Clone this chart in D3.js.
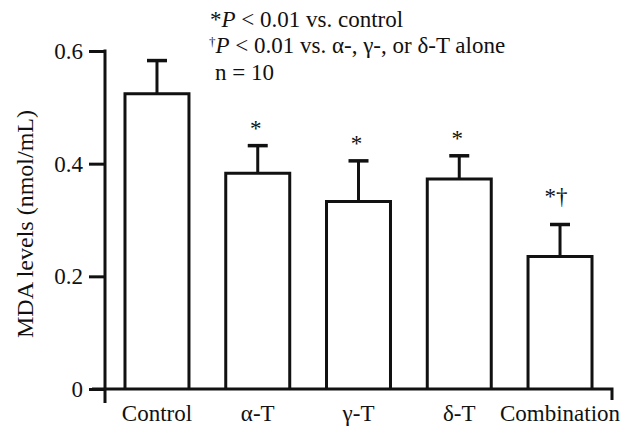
<!DOCTYPE html>
<html>
<head>
<meta charset="utf-8">
<script src="https://cdn.jsdelivr.net/npm/d3@7"></script>
<style>
  body { margin: 0; background: #fff; }
  svg { display: block; font-family: "Liberation Serif", "Times New Roman", serif; }
</style>
</head>
<body>
<svg id="chart" width="642" height="426"></svg>
<script>
// data
var groups = ["Control", "\u03b1-T", "\u03b3-T", "\u03b4-T", "Combination"];
var mda = [0.524, 0.383, 0.333, 0.373, 0.235];
var sem = [0.059, 0.049, 0.072, 0.041, 0.057];
var marks = ["", "*", "*", "*", "*\u2020"];
var yTicks = [0, 0.2, 0.4, 0.6];

var svg = d3.select("#chart");
var ink = "#111";

var y = d3.scaleLinear().domain([0, 0.6]).range([389, 51]);
var x = d3.scaleBand().domain(groups).range([106.6, 610.4]).paddingInner(0.365).paddingOuter(0.1825);

// y axis
var yAxis = svg.append("g")
    .attr("transform", "translate(105,0)")
    .call(d3.axisLeft(y).tickValues(yTicks).tickSize(16).tickPadding(6)
      .tickFormat(function(d) { return d === 0 ? "0" : d3.format(".1f")(d); }));
yAxis.select(".domain").remove();
yAxis.selectAll("line").attr("stroke", ink).attr("stroke-width", 3);
yAxis.selectAll("text").attr("fill", ink).style("font-size", "23px").style("font-family", "Liberation Serif");

svg.append("line").attr("x1", 105).attr("x2", 105).attr("y1", y(0.6) - 1.5).attr("y2", y(0) + 14)
    .attr("stroke", ink).attr("stroke-width", 3);

// x axis
var xAxis = svg.append("g")
    .attr("transform", "translate(0," + y(0) + ")")
    .call(d3.axisBottom(x).tickSize(0).tickPadding(16));
xAxis.select(".domain").remove();
xAxis.selectAll("text").attr("fill", ink).style("font-size", "23px").style("font-family", "Liberation Serif");

svg.append("path")
    .attr("d", "M92," + y(0) + "H612V" + (y(0) + 11))
    .attr("fill", "none").attr("stroke", ink).attr("stroke-width", 3);

// bars
var bw = x.bandwidth();
var g = svg.append("g");
groups.forEach(function(name, i) {
  var cx = x(name) + bw / 2;
  var top = y(mda[i] + sem[i]);
  g.append("path")
      .attr("d", "M" + x(name) + "," + y(0) + "V" + y(mda[i]) + "H" + (x(name) + bw) + "V" + y(0))
      .attr("fill", "none").attr("stroke", ink).attr("stroke-width", 3);
  g.append("line").attr("x1", cx).attr("x2", cx).attr("y1", y(mda[i])).attr("y2", top)
      .attr("stroke", ink).attr("stroke-width", 3);
  g.append("line").attr("x1", cx - 10).attr("x2", cx + 10).attr("y1", top).attr("y2", top)
      .attr("stroke", ink).attr("stroke-width", 3.5);
  if (marks[i]) {
    g.append("text")
        .attr("x", cx - (marks[i].length > 1 ? 4 : 2))
        .attr("y", top - (marks[i].length > 1 ? 21 : 10))
        .attr("text-anchor", "middle")
        .attr("fill", ink)
        .style("font-size", "23px")
        .text(marks[i]);
  }
});

// y label
svg.append("text")
    .attr("transform", "translate(33,224) rotate(-90)")
    .attr("text-anchor", "middle")
    .attr("fill", ink)
    .style("font-size", "24px")
    .text("MDA levels (nmol/mL)");

// notes
var notes = svg.append("g").attr("fill", ink).style("font-size", "23px");
var l1 = notes.append("text").attr("x", 210).attr("y", 27);
l1.append("tspan").text("*");
l1.append("tspan").style("font-style", "italic").text("P");
l1.append("tspan").text(" < 0.01 vs. control");
var l2 = notes.append("text").attr("x", 209).attr("y", 53);
l2.append("tspan").style("font-size", "13px").attr("dy", -7).text("\u2020");
l2.append("tspan").style("font-style", "italic").attr("dy", 7).text("P");
l2.append("tspan").text(" < 0.01 vs. \u03b1-, \u03b3-, or \u03b4-T alone");
notes.append("text").attr("x", 215).attr("y", 80).text("n = 10");
</script>
</body>
</html>
